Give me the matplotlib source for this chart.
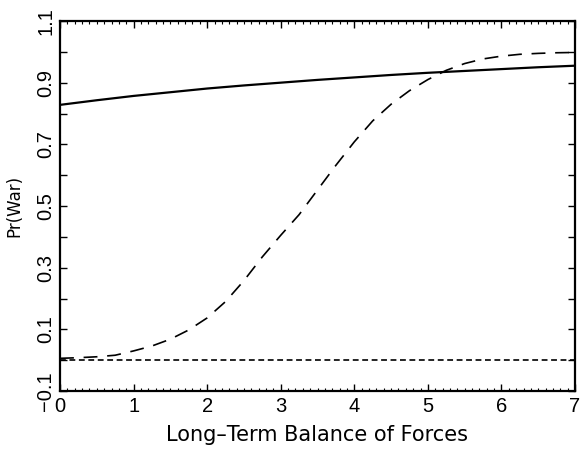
import matplotlib
matplotlib.use("Agg")
import matplotlib.pyplot as plt
from matplotlib.ticker import MultipleLocator, FixedLocator

# ---- data ----
x_curve = [0.0, 0.25, 0.5, 0.75, 1.0, 1.25, 1.5, 1.75, 2.0, 2.25, 2.5, 2.75,
           3.0, 3.25, 3.5, 3.75, 4.0, 4.25, 4.5, 4.75, 5.0, 5.25, 5.5, 5.75,
           6.0, 6.25, 6.5, 6.75, 7.0]
long_dashed = [0.006, 0.008, 0.011, 0.016, 0.030, 0.046, 0.068, 0.098, 0.137,
               0.190, 0.258, 0.335, 0.405, 0.472, 0.552, 0.632, 0.708, 0.776,
               0.830, 0.874, 0.910, 0.940, 0.962, 0.977, 0.986, 0.992, 0.995,
               0.997, 0.998]
x_solid = [0.0, 0.5, 1.0, 1.5, 2.0, 2.5, 3.0, 3.5, 4.0, 4.5, 5.0, 5.5, 6.0, 6.5, 7.0]
solid = [0.828, 0.843, 0.857, 0.869, 0.881, 0.891, 0.900, 0.909, 0.917, 0.925,
         0.932, 0.938, 0.944, 0.950, 0.955]
x_flat = [0.0, 7.0]
short_dashed = [0.0, 0.0]

x_ticks = [0, 1, 2, 3, 4, 5, 6, 7]
y_ticks = [-0.1, 0.1, 0.3, 0.5, 0.7, 0.9, 1.1]
y_ticklabels = ["\u22120.1", "0.1", "0.3", "0.5", "0.7", "0.9", "1.1"]

plt.rcParams['lines.scale_dashes'] = False
plt.rcParams['font.family'] = ['DejaVu Sans']
tick_font = ['Liberation Sans Narrow', 'Liberation Sans', 'DejaVu Sans']

fig = plt.figure(figsize=(5.81, 4.51), dpi=100)
ax = fig.add_axes([60/581, 60/451, 515/581, 370/451])

ax.plot(x_solid, solid, color='black', lw=1.6, solid_capstyle='butt')
ax.plot(x_curve, long_dashed, color='black', lw=1.2, dashes=(10, 7))
ax.plot(x_flat, short_dashed, color='black', lw=1.2, dashes=(4.2, 2.6))

ax.set_xlim(0, 7)
ax.set_ylim(-0.1, 1.1)

ax.xaxis.set_major_locator(FixedLocator(x_ticks))
ax.xaxis.set_minor_locator(MultipleLocator(0.1))
ax.yaxis.set_major_locator(FixedLocator(y_ticks))
ax.set_yticklabels(y_ticklabels, rotation=90, va='center')
ax.yaxis.set_minor_locator(MultipleLocator(0.1))

ax.tick_params(axis='both', which='both', direction='in', top=True, right=True,
               color='black')
ax.tick_params(axis='x', which='major', length=5, width=1, labelsize=14.5, pad=4.5)
ax.tick_params(axis='x', which='minor', length=2.5, width=0.8)
ax.tick_params(axis='y', which='major', length=5, width=1, labelsize=14.5, pad=3.5)
ax.tick_params(axis='y', which='minor', length=5, width=1)
for lab in ax.get_xticklabels() + ax.get_yticklabels():
    lab.set_family(tick_font)

for s in ax.spines.values():
    s.set_linewidth(1.6)

ax.set_xlabel("Long\u2013Term Balance of Forces", fontsize=15, labelpad=6)
ax.set_ylabel("Pr(War)", fontsize=12, labelpad=9)

fig.savefig("out.png", dpi=100)
